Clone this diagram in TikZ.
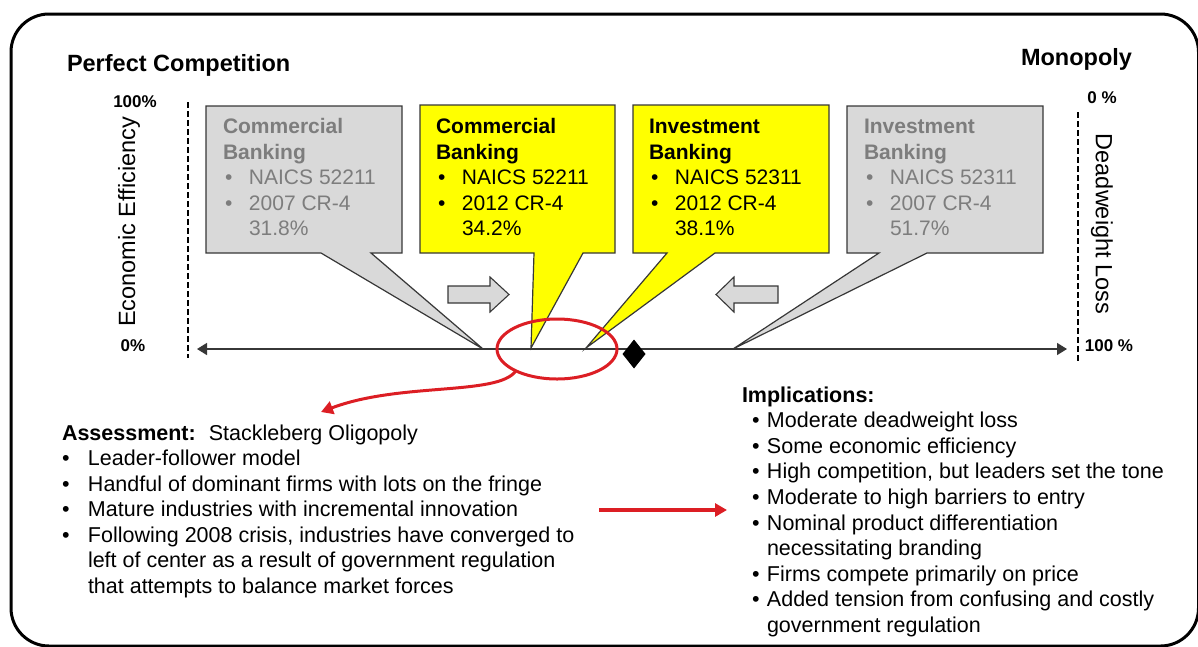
\documentclass[tikz,border=0pt]{standalone}
\usepackage{fontspec}
\setmainfont{Liberation Sans}
\usetikzlibrary{arrows.meta,shapes.geometric}

\definecolor{boxgray}{RGB}{217,217,217}
\definecolor{txtgray}{RGB}{125,125,125}
\definecolor{edgegray}{RGB}{55,55,55}
\definecolor{hiyellow}{RGB}{255,255,0}
\definecolor{markred}{RGB}{220,30,36}

% bullet helpers for the different text blocks
\newcommand\cbul{\hspace{2pt}\makebox[24pt][l]{•}}
\newcommand\cind{\hspace{26pt}}
\newcommand\lbul{\makebox[26pt][l]{•}}
\newcommand\lind{\hspace{26pt}}
\newcommand\rbul{\hspace{10pt}\makebox[15pt][l]{•}}
\newcommand\rind{\hspace{25pt}}

\begin{document}
\begin{tikzpicture}[x=1pt,y=-1pt,
  every node/.style={inner sep=0pt, outer sep=0pt},
  heading/.style={font=\fontsize{23.5}{28}\selectfont\bfseries, anchor=base west},
  pct/.style={font=\fontsize{17}{20}\selectfont\bfseries, anchor=base},
  sidelabel/.style={font=\fontsize{23.5}{28}\selectfont},
  ctitle/.style={font=\fontsize{21}{25}\selectfont\bfseries, anchor=base west},
  cline/.style={font=\fontsize{21}{25}\selectfont, anchor=base west},
  body/.style={font=\fontsize{21.5}{25}\selectfont, anchor=base west},
  greycall/.style={fill=boxgray, draw=edgegray, line width=1.2pt, line join=miter},
  yellowcall/.style={fill=hiyellow, draw=edgegray, line width=1.2pt, line join=miter},
  blockarrow/.style={fill=boxgray, draw=edgegray, line width=1.1pt},
  dashaxis/.style={draw=black, line width=2.4pt, dash pattern=on 6pt off 3pt},
  redmark/.style={draw=markred, line width=3pt},
]
\useasboundingbox (0,0) rectangle (1198,646);

% outer frame
\draw[line width=3pt, rounded corners=38pt] (11,14) rectangle (1198.5,646);

% headings
\node[heading] (pc) at (67,71.5) {Perfect Competition};
\node[heading] (mono) at (1021,65) {Monopoly};

% vertical scales
\coordinate (lt) at (188,102);
\coordinate (lb) at (188,358);
\coordinate (rt) at (1078,112);
\coordinate (rb) at (1078,363);
\draw[dashaxis] (lt) -- (lb);
\draw[dashaxis] (rt) -- (rb);
\node[pct] (l100) at (135,107) {100\%};
\node[pct] (l0) at (133,351) {0\%};
\node[pct] (r0) at (1102,103) {0 \%};
\node[pct] (r100) at (1109,351) {100 \%};
\node[sidelabel, rotate=90] (eff) at (129,222) {Economic Efficiency};
\node[sidelabel, rotate=-90] (dwl) at (1102,224) {Deadweight Loss};

% horizontal axis
\coordinate (axL) at (197,349);
\coordinate (axR) at (1067,349);
\draw[edgegray, line width=1.4pt, {Triangle[length=10pt,width=12pt]}-{Triangle[length=10pt,width=12pt]}] (axL) -- (axR);

% callout shapes
\filldraw[greycall] (206,106) -- (402,106) -- (402,253) -- (371,253) -- (483,349) -- (321,253) -- (206,253) -- cycle;
\filldraw[yellowcall] (420,105) -- (615,105) -- (615,253) -- (583,253) -- (531,348) -- (534,253) -- (420,253) -- cycle;
\filldraw[yellowcall] (633,105) -- (829,105) -- (829,253) -- (715,253) -- (586,348) -- (667,253) -- (633,253) -- cycle;
\filldraw[greycall] (847,106) -- (1043,106) -- (1043,253) -- (927,253) -- (733,349) -- (879,253) -- (847,253) -- cycle;

% callout texts
\begin{scope}[every node/.append style={text=txtgray}]
\node[ctitle] (ca1) at (223,133.5) {Commercial};
\node[ctitle] (ca2) at (223,159) {Banking};
\node[cline] (ca3) at (223,184.5) {\cbul NAICS 52211};
\node[cline] (ca4) at (223,210) {\cbul 2007 CR-4};
\node[cline] (ca5) at (223,235.5) {\cind 31.8\%};
\node[ctitle] (cd1) at (864,133.5) {Investment};
\node[ctitle] (cd2) at (864,159) {Banking};
\node[cline] (cd3) at (864,184.5) {\cbul NAICS 52311};
\node[cline] (cd4) at (864,210) {\cbul 2007 CR-4};
\node[cline] (cd5) at (864,235.5) {\cind 51.7\%};
\end{scope}
\node[ctitle] (cb1) at (436,133.5) {Commercial};
\node[ctitle] (cb2) at (436,159) {Banking};
\node[cline] (cb3) at (436,184.5) {\cbul NAICS 52211};
\node[cline] (cb4) at (436,210) {\cbul 2012 CR-4};
\node[cline] (cb5) at (436,235.5) {\cind 34.2\%};
\node[ctitle] (cc1) at (649,133.5) {Investment};
\node[ctitle] (cc2) at (649,159) {Banking};
\node[cline] (cc3) at (649,184.5) {\cbul NAICS 52311};
\node[cline] (cc4) at (649,210) {\cbul 2012 CR-4};
\node[cline] (cc5) at (649,235.5) {\cind 38.1\%};

% movement arrows
\filldraw[blockarrow] (448,286) -- (490,286) -- (490,277) -- (509,294.5) -- (490,312) -- (490,303) -- (448,303) -- cycle;
\filldraw[blockarrow] (778,286) -- (734,286) -- (734,277) -- (716,294.5) -- (734,312) -- (734,303) -- (778,303) -- cycle;

% current position marker
\node[diamond, fill=black, minimum width=23pt, minimum height=29pt] (pos) at (634,354) {};

% highlighted region and its assessment
\node[ellipse, redmark, minimum width=120pt, minimum height=60pt] (focus) at (557,349) {};
\coordinate (asstip) at (321,412);
\draw[redmark, -{Triangle[length=12pt,width=13pt]}] (focus.208) .. controls (498,396) and (400,382) .. (asstip);

% assessment block
\node[body] (as0) at (62,440) {\textbf{Assessment:}\hspace{13pt}Stackleberg Oligopoly};
\node[body] (as1) at (62,465.5) {\lbul Leader-follower model};
\node[body] (as2) at (62,491) {\lbul Handful of dominant firms with lots on the fringe};
\node[body] (as3) at (62,516.5) {\lbul Mature industries with incremental innovation};
\node[body] (as4) at (62,542) {\lbul Following 2008 crisis, industries have converged to};
\node[body] (as5) at (62,567.5) {\lind left of center as a result of government regulation};
\node[body] (as6) at (62,593) {\lind that attempts to balance market forces};

% implications block
\node[body] (im0) at (742,402) {\textbf{Implications:}};
\node[body] (im1) at (742,427.6) {\rbul Moderate deadweight loss};
\node[body] (im2) at (742,453.2) {\rbul Some economic efficiency};
\node[body] (im3) at (742,478.8) {\rbul High competition, but leaders set the tone};
\node[body] (im4) at (742,504.4) {\rbul Moderate to high barriers to entry};
\node[body] (im5) at (742,530) {\rbul Nominal product differentiation};
\node[body] (im6) at (742,555.6) {\rind necessitating branding};
\node[body] (im7) at (742,581.2) {\rbul Firms compete primarily on price};
\node[body] (im8) at (742,606.8) {\rbul Added tension from confusing and costly};
\node[body] (im9) at (742,632.4) {\rind government regulation};

% link from assessment to implications
\coordinate (linkA) at (599,510);
\coordinate (linkB) at (727,510);
\draw[draw=markred, line width=3.5pt, -{Triangle[length=12pt,width=13pt]}] (linkA) -- (linkB);

\end{tikzpicture}
\end{document}
